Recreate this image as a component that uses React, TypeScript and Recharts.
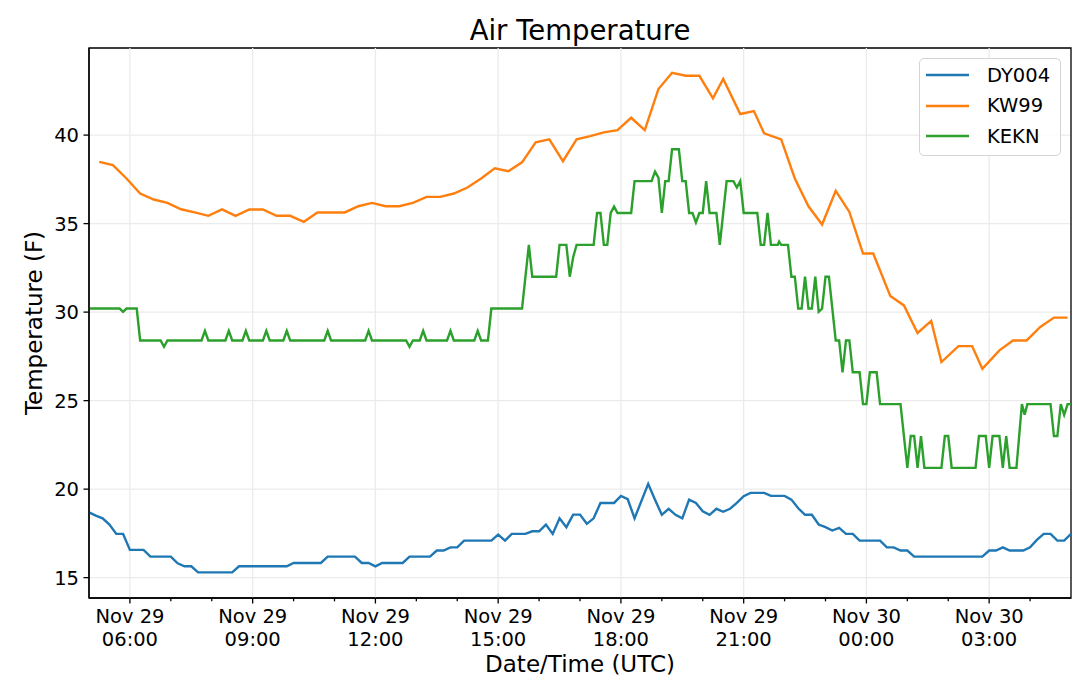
import React from 'react';
import { LineChart, Line, XAxis, YAxis, CartesianGrid, ReferenceLine, ReferenceArea, Legend } from 'recharts';

const FONT = '"DejaVu Sans", Verdana, sans-serif';

// time is minutes after Nov 29 05:00 UTC
const X_DOMAIN = [0, 1440];
const Y_DOMAIN = [13.85, 44.92];

const hourTicks = [
  60, 120, 180, 240, 300, 360, 420, 480, 540, 600, 660, 720, 780, 840, 900, 960, 1020, 1080, 1140, 1200, 1260, 1320,
  1380,
];
const majorTicks = [60, 240, 420, 600, 780, 960, 1140, 1320];
const tempTicks = [15, 20, 25, 30, 35, 40];
const seriesOrder = ['DY004', 'KW99', 'KEKN'];

// DY004 reports every 10 minutes from 05:00
const dy004Step = 10;
const dy004Temps = [
  18.69, 18.5, 18.35, 18.0, 17.47, 17.47, 16.57, 16.57, 16.57, 16.19, 16.19, 16.19, 16.19, 15.81, 15.64, 15.64, 15.3,
  15.3, 15.3, 15.3, 15.3, 15.3, 15.64, 15.64, 15.64, 15.64, 15.64, 15.64, 15.64, 15.64, 15.83, 15.83, 15.83, 15.83,
  15.83, 16.19, 16.19, 16.19, 16.19, 16.19, 15.83, 15.83, 15.64, 15.83, 15.83, 15.83, 15.83, 16.19, 16.19, 16.19,
  16.19, 16.53, 16.53, 16.71, 16.71, 17.09, 17.09, 17.09, 17.09, 17.09, 17.43, 17.09, 17.47, 17.47, 17.47, 17.62,
  17.62, 18.0, 17.47, 18.35, 17.85, 18.56, 18.56, 18.04, 18.35, 19.22, 19.22, 19.22, 19.62, 19.43, 18.35, null, 20.3,
  19.4, 18.55, 18.89, 18.55, 18.35, 19.41, 19.22, 18.75, 18.55, 18.89, 18.72, 18.89, 19.22, 19.6, 19.79, 19.79, 19.79,
  19.62, 19.62, 19.62, 19.41, 18.92, 18.55, 18.55, 18.0, 17.85, 17.66, 17.81, 17.47, 17.47, 17.09, 17.09, 17.09,
  17.09, 16.71, 16.71, 16.53, 16.53, 16.19, 16.19, 16.19, 16.19, 16.19, 16.19, 16.19, 16.19, 16.19, 16.19, 16.19,
  16.53, 16.53, 16.71, 16.53, 16.53, 16.53, 16.71, 17.13, 17.47, 17.47, 17.09, 17.09, 17.47,
];

const kw99Times = [
  15, 35, 55, 75, 95, 115, 135, 155, 175, 195, 215, 235, 255, 275, 295, 315, 335, 355, 375, 395, 415, 435, 455, 475,
  495, 515, 535, 555, 575, 595, 615, 635, 655, 675, 695, 715, 735, 755, 775, 795, 815, 835, 855, 875, 895, 915, 930,
  955, 975, 990, 1015, 1035, 1055, 1075, 1095, 1115, 1135, 1150, 1175, 1195, 1215, 1235, 1250, 1275, 1295, 1310, 1335,
  1355, 1375, 1395, 1415, 1435,
];
const kw99Temps = [
  38.49, 38.3, 37.55, 36.7, 36.36, 36.17, 35.81, 35.63, 35.44, 35.8, 35.44, 35.8, 35.8, 35.44, 35.44, 35.1, 35.63,
  35.63, 35.63, 35.98, 36.17, 35.98, 35.98, 36.17, 36.51, 36.51, 36.7, 37.04, 37.55, 38.12, 37.96, 38.46, 39.59, 39.76,
  38.53, 39.76, 39.94, 40.15, 40.28, 40.98, 40.28, 42.6, 43.52, 43.35, 43.35, 42.08, 43.17, 41.19, 41.36, 40.1, 39.76,
  37.55, 35.98, 34.95, 36.85, 35.66, 33.31, 33.31, 30.91, 30.38, 28.82, 29.5, 27.18, 28.08, 28.08, 26.8, 27.84, 28.4,
  28.4, 29.16, 29.69, 29.69,
];

const keknTimes = [
  0, 45, 50, 55, 70, 75, 105, 110, 115, 165, 170, 175, 200, 205, 210, 225, 230, 235, 255, 260, 265, 285, 290, 295, 345,
  350, 355, 405, 410, 415, 465, 470, 475, 485, 490, 495, 525, 530, 535, 565, 570, 575, 585, 590, 635, 645, 650, 685,
  690, 700, 705, 710, 715, 740, 745, 750, 755, 760, 765, 770, 775, 795, 800, 825, 830, 835, 840, 845, 850, 855, 865,
  870, 875, 880, 885, 890, 895, 900, 905, 910, 920, 925, 935, 945, 950, 955, 960, 980, 985, 990, 995, 1000, 1010, 1012,
  1015, 1025, 1030, 1035, 1040, 1045, 1050, 1055, 1060, 1065, 1070, 1075, 1080, 1085, 1095, 1100, 1105, 1110, 1115,
  1120, 1130, 1135, 1140, 1145, 1155, 1160, 1190, 1200, 1205, 1210, 1215, 1220, 1225, 1250, 1255, 1260, 1265, 1300,
  1305, 1315, 1320, 1325, 1335, 1340, 1345, 1350, 1360, 1368, 1372, 1376, 1410, 1415, 1420, 1425, 1430, 1435, 1440,
];
const keknTemps = [
  30.2, 30.2, 30.02, 30.2, 30.2, 28.4, 28.4, 28.04, 28.4, 28.4, 28.94, 28.4, 28.4, 28.94, 28.4, 28.4, 28.94, 28.4, 28.4,
  28.94, 28.4, 28.4, 28.94, 28.4, 28.4, 28.94, 28.4, 28.4, 28.94, 28.4, 28.4, 28.04, 28.4, 28.4, 28.94, 28.4, 28.4,
  28.94, 28.4, 28.4, 28.94, 28.4, 28.4, 30.2, 30.2, 33.8, 32.0, 32.0, 33.8, 33.8, 32.0, 33.1, 33.8, 33.8, 35.6, 35.6,
  33.8, 33.8, 35.6, 35.96, 35.6, 35.6, 37.4, 37.4, 37.94, 37.6, 35.6, 37.4, 37.4, 39.2, 39.2, 37.4, 37.4, 35.6, 35.6,
  35.06, 35.6, 35.6, 37.4, 35.6, 35.6, 33.8, 37.4, 37.4, 37.04, 37.4, 35.6, 35.6, 33.8, 33.8, 35.6, 33.8, 33.8, 33.98,
  33.8, 33.8, 32.0, 32.0, 30.2, 30.2, 32.0, 30.2, 30.2, 32.0, 30.02, 30.2, 32.0, 32.0, 28.4, 28.4, 26.6, 28.4, 28.4,
  26.6, 26.6, 24.8, 24.8, 26.6, 26.6, 24.8, 24.8, 21.2, 23.0, 23.0, 21.2, 23.0, 21.2, 21.2, 23.0, 23.0, 21.2, 21.2,
  23.0, 23.0, 21.2, 23.0, 23.0, 21.2, 23.0, 21.2, 21.2, 24.8, 24.2, 24.8, 24.8, 23.0, 23.0, 24.8, 24.2, 24.8, 24.8,
];

const dy004Data = dy004Temps.map((t, i) => ({ m: i * dy004Step, t }));
const kw99Data = kw99Times.map((m, i) => ({ m, t: kw99Temps[i] }));
const keknData = keknTimes.map((m, i) => ({ m, t: keknTemps[i] }));

const dayLabel = (m: number) => (m + 300 >= 1440 ? 'Nov 30' : 'Nov 29');
const hourLabel = (m: number) => `${String(Math.floor((m + 300) / 60) % 24).padStart(2, '0')}:00`;

const TimeTick = (props: any) => {
  const { x, y, payload } = props;
  const major = majorTicks.includes(payload.value);
  return (
    <g>
      <line x1={x} x2={x} y1={y} y2={y + (major ? 5.5 : 3.3)} stroke="#000" strokeWidth={1.3} />
      {major ? (
        <text textAnchor="middle" fontSize={19.5} fontFamily={FONT} fill="#000">
          <tspan x={x} y={y + 24.5}>
            {dayLabel(payload.value)}
          </tspan>
          <tspan x={x} y={y + 47.5}>
            {hourLabel(payload.value)}
          </tspan>
        </text>
      ) : null}
    </g>
  );
};

const LegendBox = (props: any) => {
  const items = [...(props.payload || [])].sort(
    (a: any, b: any) => seriesOrder.indexOf(a.value) - seriesOrder.indexOf(b.value),
  );
  return (
    <div
      style={{
        boxSizing: 'border-box',
        width: 142,
        height: 98,
        border: '1.3px solid #d4d4d4',
        borderRadius: 5,
        background: 'rgba(255,255,255,0.85)',
        padding: '1px 0 0 6px',
        fontFamily: FONT,
        fontSize: 19.5,
        color: '#000',
      }}
    >
      {items.map((item: any) => (
        <div key={item.value} style={{ display: 'flex', alignItems: 'center', height: 30.5 }}>
          <svg width={43} height={4}>
            <line x1={0} x2={43} y1={2} y2={2} stroke={item.color} strokeWidth={2.4} />
          </svg>
          <span style={{ marginLeft: 18 }}>{item.value}</span>
        </div>
      ))}
    </div>
  );
};

export default function App() {
  return (
    <div style={{ position: 'absolute', left: 0, top: 0, background: '#fff' }}>
      <LineChart width={1080} height={693} margin={{ top: 48, right: 9, bottom: 35, left: 0 }}>
        <CartesianGrid vertical={false} stroke="#ebebeb" strokeWidth={1.3} />
        {majorTicks.map((m) => (
          <ReferenceLine key={m} x={m} stroke="#ebebeb" strokeWidth={1.3} />
        ))}
        <XAxis
          dataKey="m"
          type="number"
          domain={X_DOMAIN}
          ticks={hourTicks}
          interval={0}
          tick={<TimeTick />}
          tickLine={false}
          tickSize={0}
          tickMargin={0}
          height={60}
          axisLine={{ stroke: '#000', strokeWidth: 1.3 }}
          allowDataOverflow
        />
        <YAxis
          type="number"
          domain={Y_DOMAIN}
          ticks={tempTicks}
          interval={0}
          width={89}
          tickSize={5.5}
          tickMargin={4.5}
          tick={{ fill: '#000', fontSize: 19.5, fontFamily: FONT }}
          tickLine={{ stroke: '#000', strokeWidth: 1.3 }}
          axisLine={{ stroke: '#000', strokeWidth: 1.3 }}
          allowDataOverflow
        />
        <Line
          data={dy004Data}
          dataKey="t"
          name="DY004"
          stroke="#1f77b4"
          strokeWidth={2.4}
          dot={false}
          connectNulls
          isAnimationActive={false}
        />
        <Line
          data={kw99Data}
          dataKey="t"
          name="KW99"
          stroke="#ff7f0e"
          strokeWidth={2.4}
          dot={false}
          isAnimationActive={false}
        />
        <Line
          data={keknData}
          dataKey="t"
          name="KEKN"
          stroke="#2ca02c"
          strokeWidth={2.4}
          dot={false}
          isAnimationActive={false}
        />
        <ReferenceArea
          x1={X_DOMAIN[0]}
          x2={X_DOMAIN[1]}
          y1={Y_DOMAIN[0]}
          y2={Y_DOMAIN[1]}
          fill="none"
          fillOpacity={0}
          stroke="#000"
          strokeWidth={1.3}
        />
        <Legend
          layout="vertical"
          align="center"
          verticalAlign="middle"
          content={<LegendBox />}
          wrapperStyle={{ top: 58, left: 919, width: 142, height: 98 }}
        />
        <text x={580} y={40} textAnchor="middle" fontSize={27.5} fontFamily={FONT} fill="#000">
          Air Temperature
        </text>
        <text x={580} y={672} textAnchor="middle" fontSize={23} fontFamily={FONT} fill="#000">
          Date/Time (UTC)
        </text>
        <text
          transform="translate(42,323) rotate(-90)"
          textAnchor="middle"
          fontSize={23}
          fontFamily={FONT}
          fill="#000"
        >
          Temperature (F)
        </text>
      </LineChart>
    </div>
  );
}
